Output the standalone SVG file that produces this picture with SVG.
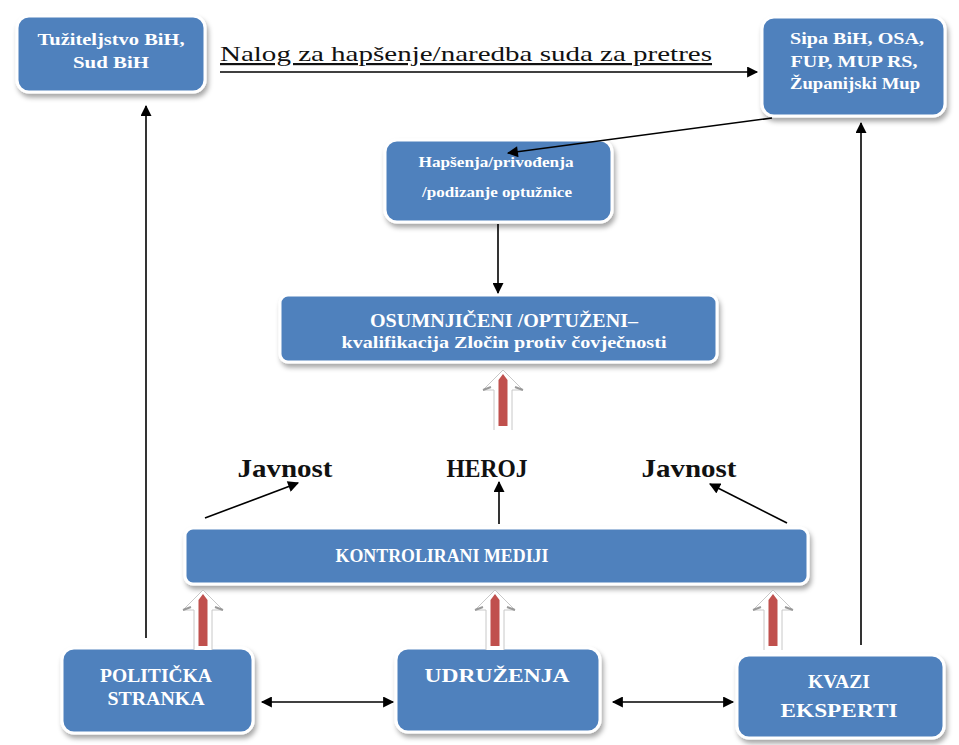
<svg xmlns="http://www.w3.org/2000/svg" width="959" height="745" viewBox="0 0 959 745">
<defs>
<filter id="sh" x="-10%" y="-10%" width="125%" height="140%">
<feDropShadow dx="2" dy="4" stdDeviation="2.5" flood-color="#000" flood-opacity="0.35"/>
</filter>
<marker id="ahb" viewBox="0 0 10 10" refX="9" refY="5" markerWidth="12" markerHeight="11" orient="auto-start-reverse" markerUnits="userSpaceOnUse">
<path d="M0,0 L10,5 L0,10 z" fill="#000"/>
</marker>
<g id="redup">
<path d="M-9,56 L-9,16 L-20,16 L0,-4 L20,16 L9,16 L9,56" fill="#fff" stroke="#c8c8c8" stroke-width="1"/>
<path d="M-20,16 L-12,13 M20,16 L12,13" stroke="#999" stroke-width="2"/>
<path d="M-4.5,52 L-4.5,6 L0,0 L4.5,6 L4.5,52 z" fill="#c0504d"/>
</g>
</defs>
<style>
.box{fill:#4f81bd;stroke:#fff;stroke-width:3;filter:url(#sh)}
.t{font-family:"Liberation Serif","DejaVu Serif",serif;font-weight:bold;fill:#fff;text-anchor:middle}
.ln{stroke:#000;stroke-width:1.6;fill:none}
.lbl{font-family:"Liberation Serif","DejaVu Serif",serif;font-weight:bold;fill:#111;font-size:25px;text-anchor:middle}
</style>
<rect width="959" height="745" fill="#fff"/>

<text x="220" y="61" font-family="Liberation Serif, serif" font-size="22" fill="#111" text-decoration="underline" textLength="492" lengthAdjust="spacingAndGlyphs">Nalog za hapšenje/naredba  suda za pretres</text>
<text class="lbl" x="285" y="477" textLength="95" lengthAdjust="spacingAndGlyphs">Javnost</text>
<text class="lbl" x="487" y="477" textLength="81" lengthAdjust="spacingAndGlyphs">HEROJ</text>
<text class="lbl" x="689" y="477" textLength="95" lengthAdjust="spacingAndGlyphs">Javnost</text>

<g id="tuzilastvo">
<rect class="box" x="17" y="16" width="188" height="76" rx="12"/>
<text class="t" x="111" y="45" font-size="17" textLength="147" lengthAdjust="spacingAndGlyphs">Tužiteljstvo BiH,</text>
<text class="t" x="111" y="68" font-size="17" textLength="76" lengthAdjust="spacingAndGlyphs">Sud BiH</text>
</g>
<g id="sipa">
<rect class="box" x="762" y="17" width="183" height="99" rx="12"/>
<text class="t" x="857" y="44" font-size="17" textLength="134" lengthAdjust="spacingAndGlyphs">Sipa BiH, OSA,</text>
<text class="t" x="854" y="67" font-size="17" textLength="127" lengthAdjust="spacingAndGlyphs">FUP, MUP RS,</text>
<text class="t" x="855" y="89" font-size="17" textLength="130" lengthAdjust="spacingAndGlyphs">Županijski Mup</text>
</g>
<g id="hapsenja">
<rect class="box" x="385" y="140" width="227" height="82" rx="12"/>
<text class="t" x="496" y="167" font-size="15" textLength="155" lengthAdjust="spacingAndGlyphs">Hapšenja/privođenja</text>
<text class="t" x="497" y="197" font-size="15" textLength="150" lengthAdjust="spacingAndGlyphs">/podizanje optužnice</text>
</g>
<g id="osumnjiceni">
<rect class="box" x="280" y="295" width="437" height="67" rx="8"/>
<text class="t" x="504" y="327" font-size="18" textLength="268" lengthAdjust="spacingAndGlyphs">OSUMNJIČENI /OPTUŽENI–</text>
<text class="t" x="504" y="348" font-size="17" font-weight="normal" textLength="325" lengthAdjust="spacingAndGlyphs">kvalifikacija Zločin protiv čovječnosti</text>
</g>
<g id="mediji">
<rect class="box" x="185" y="528" width="623" height="56" rx="8"/>
<text class="t" x="442" y="562" font-size="18" textLength="213" lengthAdjust="spacingAndGlyphs">KONTROLIRANI  MEDIJI</text>
</g>
<g id="stranka">
<rect class="box" x="62" y="648" width="191" height="85" rx="12"/>
<text class="t" x="156" y="682" font-size="18" textLength="112" lengthAdjust="spacingAndGlyphs">POLITIČKA</text>
<text class="t" x="156" y="705" font-size="18" textLength="97" lengthAdjust="spacingAndGlyphs">STRANKA</text>
</g>
<g id="udruzenja">
<rect class="box" x="396" y="648" width="204" height="84" rx="12"/>
<text class="t" x="497" y="682" font-size="18" textLength="145" lengthAdjust="spacingAndGlyphs">UDRUŽENJA</text>
</g>
<g id="kvazi">
<rect class="box" x="737" y="655" width="207" height="83" rx="12"/>
<text class="t" x="839" y="688" font-size="18" textLength="62" lengthAdjust="spacingAndGlyphs">KVAZI</text>
<text class="t" x="839" y="717" font-size="18" textLength="117" lengthAdjust="spacingAndGlyphs">EKSPERTI</text>
</g>

<g id="connectors">
<line class="ln" x1="220" y1="72" x2="757" y2="72" marker-end="url(#ahb)"/>
<line class="ln" x1="772" y1="118" x2="508" y2="153" marker-end="url(#ahb)"/>
<line class="ln" x1="498" y1="224" x2="498" y2="293" marker-end="url(#ahb)"/>
<line class="ln" x1="146" y1="638" x2="146" y2="106" marker-end="url(#ahb)"/>
<line class="ln" x1="861" y1="645" x2="861" y2="123" marker-end="url(#ahb)"/>
<line class="ln" x1="205" y1="518" x2="298" y2="483" marker-end="url(#ahb)"/>
<line class="ln" x1="499" y1="524" x2="499" y2="482" marker-end="url(#ahb)"/>
<line class="ln" x1="787" y1="523" x2="710" y2="484" marker-end="url(#ahb)"/>
<line class="ln" x1="262" y1="702" x2="393" y2="702" stroke-width="2" marker-start="url(#ahb)" marker-end="url(#ahb)"/>
<line class="ln" x1="613" y1="702" x2="733" y2="702" stroke-width="2" marker-start="url(#ahb)" marker-end="url(#ahb)"/>
<use href="#redup" x="503" y="374"/>
<use href="#redup" x="203" y="594"/>
<use href="#redup" x="495" y="594"/>
<use href="#redup" x="773" y="594"/>
</g>
</svg>
